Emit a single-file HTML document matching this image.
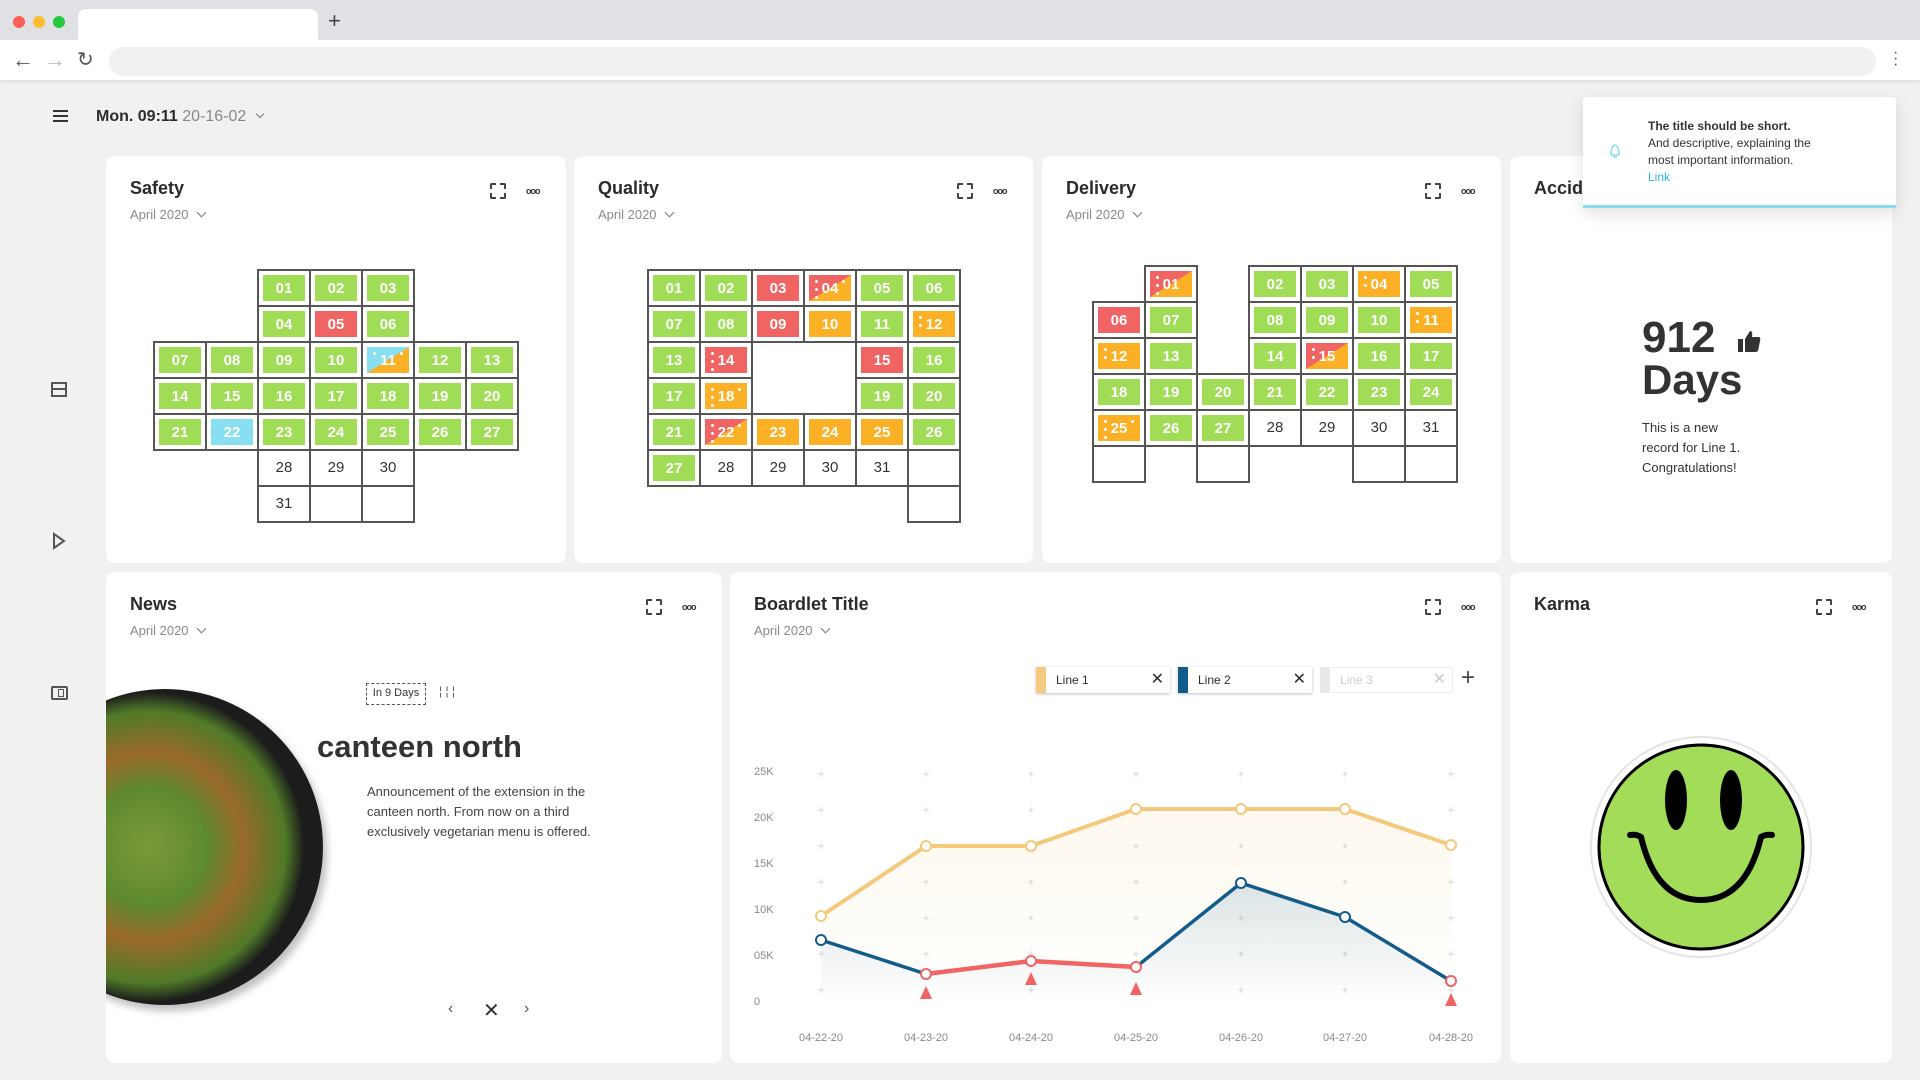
<!DOCTYPE html>
<html><head><meta charset="utf-8"><style>
*{box-sizing:border-box;margin:0;padding:0}
body{width:1920px;height:1080px;background:#f1f1f1;font-family:"Liberation Sans",sans-serif;position:relative;overflow:hidden;color:#2b2b2b}
.a{position:absolute}
.card{position:absolute;background:#fff;border-radius:9px}
.tt{position:absolute;left:24px;top:22px;font-size:18px;font-weight:bold;color:#2b2b2b}
.sub{position:absolute;left:24px;top:51px;font-size:13px;color:#8a8a8a}
.sub:after{content:"";display:inline-block;width:6px;height:6px;border-right:1.3px solid #777;border-bottom:1.3px solid #777;transform:rotate(45deg);margin-left:9px;position:relative;top:-3px}
.ex{position:absolute;top:27px;width:16px;height:16px;border:2px dashed #444;border-radius:2px}
.dt{position:absolute;top:30px;font-size:9px;letter-spacing:-1px;color:#333;font-weight:bold}
.c{position:absolute;width:54px;height:38px;border:2px solid #555;background:#fff}
.c i{position:absolute;left:4px;top:4px;right:4px;bottom:4px;color:#fff;font-style:normal;font-weight:bold;font-size:15px;text-align:center;line-height:28px}
.c b{position:absolute;left:0;right:0;top:0;line-height:34px;text-align:center;font-weight:normal;font-size:15px;color:#333}
.d{position:absolute;width:3px;height:3px;border-radius:50%;background:#fff}
</style></head><body>
<div class="a" style="left:0;top:0;width:1920px;height:40px;background:#dfe1e5"></div>
<div class="a" style="left:13px;top:16px;width:12px;height:12px;border-radius:50%;background:#fe5f57"></div>
<div class="a" style="left:33px;top:16px;width:12px;height:12px;border-radius:50%;background:#febc2e"></div>
<div class="a" style="left:53px;top:16px;width:12px;height:12px;border-radius:50%;background:#28c840"></div>
<div class="a" style="left:78px;top:9px;width:240px;height:32px;background:#fff;border-radius:8px 8px 0 0"></div>
<div class="a" style="left:328px;top:8px;font-size:22px;color:#444">+</div>
<div class="a" style="left:0;top:40px;width:1920px;height:40px;background:#fff;box-shadow:0 2px 4px rgba(0,0,0,.08)"></div>
<div class="a" style="left:12px;top:47px;font-size:22px;color:#555">←</div>
<div class="a" style="left:44px;top:47px;font-size:22px;color:#bbb">→</div>
<div class="a" style="left:77px;top:47px;font-size:20px;color:#555">↻</div>
<div class="a" style="left:109px;top:47px;width:1767px;height:29px;background:#f0f1f3;border-radius:15px"></div>
<div class="a" style="left:1893px;top:50px;font-size:16px;color:#555;line-height:6px">·<br>·<br>·</div>
<div class="a" style="left:53px;top:110px;width:15px;height:2px;background:#333;box-shadow:0 5px 0 #333,0 10px 0 #333"></div>
<div class="a" style="left:96px;top:108px;font-size:16px"><b>Mon. 09:11</b> <span style="color:#888">20-16-02</span> <span style="display:inline-block;width:6px;height:6px;border-right:1.3px solid #777;border-bottom:1.3px solid #777;transform:rotate(45deg);margin-left:6px;position:relative;top:-4px"></span></div>
<div class="a" style="left:51px;top:382px;width:16px;height:15px;border:2px solid #555"></div>
<div class="a" style="left:51px;top:388px;width:16px;height:2px;background:#555"></div>
<svg class="a" style="left:52px;top:532px" width="14" height="18"><path d="M2 2 L12 9 L2 16 Z" fill="none" stroke="#555" stroke-width="2"/></svg>
<div class="a" style="left:51px;top:686px;width:17px;height:14px;border:2px solid #555;border-radius:2px"></div>
<div class="a" style="left:58px;top:689px;width:6px;height:8px;border:1.5px solid #555"></div>

<div class="card" style="left:106px;top:156px;width:460px;height:407px"><div class="tt">Safety</div><div class="sub">April 2020</div><div class="ex" style="left:384px"></div><div class="dt" style="left:420px">ooo</div></div>
<div class="card" style="left:574px;top:156px;width:459px;height:407px"><div class="tt">Quality</div><div class="sub">April 2020</div><div class="ex" style="left:383px"></div><div class="dt" style="left:419px">ooo</div></div>
<div class="card" style="left:1042px;top:156px;width:459px;height:407px"><div class="tt">Delivery</div><div class="sub">April 2020</div><div class="ex" style="left:383px"></div><div class="dt" style="left:419px">ooo</div></div>
<div class="card" style="left:1510px;top:156px;width:382px;height:407px"><div class="tt">Accidents</div>
<div class="a" style="left:132px;top:160px;font-size:44px;font-weight:bold;line-height:44px;color:#333">912</div>
<svg class="a" style="left:226px;top:173px" width="26" height="26"><rect x="2" y="10" width="5" height="13" fill="#333"/><path d="M9 10 L14 2 Q17 2 16 8 L23 8 Q25 9 24 12 L22 22 Q21 23 19 23 L9 23 Z" fill="#333"/></svg>
<div class="a" style="left:132px;top:202px;font-size:42px;font-weight:bold;line-height:44px;color:#333">Days</div>
<div class="a" style="left:132px;top:262px;font-size:13px;line-height:20px;color:#333">This is a new<br>record for Line 1.<br>Congratulations!</div>
</div>
<div class="card" style="left:106px;top:572px;width:616px;height:491px;overflow:hidden"><div class="tt">News</div><div class="sub">April 2020</div><div class="ex" style="left:540px"></div><div class="dt" style="left:576px">ooo</div>
<div class="a" style="left:-99px;top:117px;width:316px;height:316px;border-radius:50%;background:radial-gradient(circle at 45% 50%,#7a9a3a 0,#5e8a2e 25%,#9a6a2a 40%,#4f7a28 58%,#1c1c1c 66%,#1c1c1c 100%);box-shadow:4px 6px 8px rgba(0,0,0,.25)"></div>
<div class="a" style="left:260px;top:111px;width:60px;height:22px;border:1.5px dashed #555;font-size:11px;line-height:19px;text-align:center;color:#333">In 9 Days</div>
<div class="a" style="left:333px;top:112px;font-size:12px;color:#555">¦ ¦ ¦</div>
<div class="a" style="left:211px;top:157px;font-size:31px;font-weight:bold;color:#333">canteen north</div>
<div class="a" style="left:261px;top:210px;font-size:13px;line-height:20px;color:#444">Announcement of the extension in the<br>canteen north. From now on a third<br>exclusively vegetarian menu is offered.</div>
<div class="a" style="left:342px;top:428px;font-size:16px;color:#555">‹</div>
<div class="a" style="left:377px;top:426px;font-size:20px;color:#333">✕</div>
<div class="a" style="left:418px;top:428px;font-size:16px;color:#555">›</div>
</div>
<div class="card" style="left:730px;top:572px;width:771px;height:491px"><div class="tt">Boardlet Title</div><div class="sub">April 2020</div><div class="ex" style="left:695px"></div><div class="dt" style="left:731px">ooo</div></div>
<div class="card" style="left:1510px;top:572px;width:382px;height:491px"><div class="tt">Karma</div><div class="ex" style="left:306px"></div><div class="dt" style="left:342px">ooo</div>
<svg class="a" style="left:76px;top:160px" width="230" height="230"><circle cx="115" cy="115" r="110" fill="#fff" stroke="#e4e4e4" stroke-width="2"/><circle cx="115" cy="115" r="102" fill="#a2dc58" stroke="#000" stroke-width="3"/><ellipse cx="90" cy="68" rx="11" ry="30" fill="#000"/><ellipse cx="145" cy="68" rx="11" ry="30" fill="#000"/><path d="M44 103 Q50 102 55 105 Q70 168 115 168 Q160 168 175 105 Q180 102 186 103" fill="none" stroke="#000" stroke-width="6" stroke-linecap="round"/></svg>
</div>

<div class="a" style="left:1036px;top:667px;width:134px;height:26px;background:#fff;box-shadow:0 1px 3px rgba(0,0,0,.25);border-left:10px solid #f3ca7f;font-size:12px;line-height:26px;padding-left:10px">Line 1<span style="position:absolute;right:6px;font-size:16px">✕</span></div>
<div class="a" style="left:1178px;top:667px;width:134px;height:26px;background:#fff;box-shadow:0 1px 3px rgba(0,0,0,.25);border-left:10px solid #125b8a;font-size:12px;line-height:26px;padding-left:10px">Line 2<span style="position:absolute;right:6px;font-size:16px">✕</span></div>
<div class="a" style="left:1320px;top:667px;width:133px;height:26px;background:#fff;border:1px solid #eee;border-left:10px solid #e8e8e8;font-size:12px;line-height:24px;padding-left:10px;color:#ccc">Line 3<span style="position:absolute;right:6px;font-size:16px">✕</span></div>
<div class="a" style="left:1461px;top:664px;font-size:24px;color:#444">+</div>

<svg class="a" style="left:0;top:0" width="1920" height="1080">
<defs>
<linearGradient id="g1" x1="0" y1="0" x2="0" y2="1"><stop offset="0" stop-color="#f7c873" stop-opacity=".12"/><stop offset="1" stop-color="#f7c873" stop-opacity="0"/></linearGradient>
<linearGradient id="g2" x1="0" y1="0" x2="0" y2="1"><stop offset="0" stop-color="#135d8c" stop-opacity=".15"/><stop offset="1" stop-color="#135d8c" stop-opacity="0"/></linearGradient>
</defs>
<g font-family="Liberation Sans" font-size="11" fill="#888">
<text x="754" y="775">25K</text><text x="754" y="821">20K</text><text x="754" y="867">15K</text><text x="754" y="913">10K</text><text x="754" y="959">05K</text><text x="754" y="1005">0</text>
</g>
<g font-family="Liberation Sans" font-size="11" fill="#888" text-anchor="middle" id="xl"></g>
<g id="grid" stroke="#d8d8d8" stroke-width="1"></g>
<polygon points="821,916 926,846 1031,846 1136,809 1241,809 1345,809 1451,845 1451,1001 821,1001" fill="url(#g1)"/>
<polygon points="821,940 926,974 1031,961 1136,967 1241,883 1345,917 1451,981 1451,1001 821,1001" fill="url(#g2)"/>
<polyline points="821,916 926,846 1031,846 1136,809 1241,809 1345,809 1451,845" fill="none" stroke="#f4c97c" stroke-width="4" stroke-linejoin="round"/>
<polyline points="821,940 926,974" fill="none" stroke="#125b8a" stroke-width="3.5"/>
<polyline points="926,974 1031,961 1136,967" fill="none" stroke="#f06464" stroke-width="4.5"/>
<polyline points="1136,967 1241,883 1345,917 1451,981" fill="none" stroke="#125b8a" stroke-width="3.5" stroke-linejoin="round"/>
<g fill="#fff" stroke="#f4c97c" stroke-width="2"><circle cx="821" cy="916" r="5"/><circle cx="926" cy="846" r="5"/><circle cx="1031" cy="846" r="5"/><circle cx="1136" cy="809" r="5"/><circle cx="1241" cy="809" r="5"/><circle cx="1345" cy="809" r="5"/><circle cx="1451" cy="845" r="5"/></g>
<g fill="#fff" stroke="#125b8a" stroke-width="2"><circle cx="821" cy="940" r="5"/><circle cx="1241" cy="883" r="5"/><circle cx="1345" cy="917" r="5"/></g>
<g fill="#fff" stroke="#f06464" stroke-width="2"><circle cx="926" cy="974" r="5"/><circle cx="1031" cy="961" r="5"/><circle cx="1136" cy="967" r="5"/><circle cx="1451" cy="981" r="5"/></g>
<g fill="#f06464"><path d="M926 986 L932 999 L920 999 Z"/><path d="M1031 972 L1037 985 L1025 985 Z"/><path d="M1136 982 L1142 995 L1130 995 Z"/><path d="M1451 993 L1457 1006 L1445 1006 Z"/></g>
</svg>

<div class="a" style="left:1583px;top:97px;width:313px;height:111px;background:#fff;border-radius:4px 4px 0 0;box-shadow:0 6px 16px rgba(0,0,0,.12);border-bottom:3px solid #87dcef">
<svg class="a" style="left:25px;top:46px" width="14" height="16"><path d="M3 12 Q3 3 7 2 Q11 3 11 12 Z M5 14 L9 14" fill="none" stroke="#87dcef" stroke-width="1.5"/></svg>
<div class="a" style="left:65px;top:21px;font-size:12px;line-height:17px;color:#333"><b>The title should be short.</b><br>And descriptive, explaining the<br>most important information.<br><span style="color:#2ab4e6">Link</span></div>
</div>

<div id="cals"></div>
<script>
var G='#a0dc55',R='#f06464',O='#fcb026',B='#88dfef';
var out='';
function cell(x,y,t,c,dl,dr){
 var s='<div class="c" style="left:'+(x-1)+'px;top:'+(y-1)+'px">';
 if(c){s+='<i style="background:'+c+'">'+t+'</i>';
  if(dl){for(var k=0;k<dl;k++)s+='<span class="d" style="left:10px;top:'+(9+k*8)+'px"></span>';}
  if(dr)s+='<span class="d" style="right:10px;top:9px"></span>';
 } else if(t) s+='<b>'+t+'</b>';
 return s+'</div>';
}
function cal(x0,y0,rows){rows.forEach(function(r,ri){r.forEach(function(e,ci){if(e===null)return;out+=cell(x0+ci*52,y0+ri*36,e[0],e[1],e[2],e[3]);});});}
var S1='linear-gradient(to bottom right,'+B+' 50%,'+O+' 50%)',RO='linear-gradient(to bottom right,'+R+' 50%,'+O+' 50%)';
var n=null;
cal(154,270,[
[n,n,['01',G],['02',G],['03',G],n,n],
[n,n,['04',G],['05',R],['06',G],n,n],
[['07',G],['08',G],['09',G],['10',G],['11',S1,1,1],['12',G],['13',G]],
[['14',G],['15',G],['16',G],['17',G],['18',G],['19',G],['20',G]],
[['21',G],['22',B],['23',G],['24',G],['25',G],['26',G],['27',G]],
[n,n,['28'],['29'],['30'],n,n],
[n,n,['31'],[''],[''],n,n]]);
cal(648,270,[
[['01',G],['02',G],['03',R],['04',RO,3,1],['05',G],['06',G]],
[['07',G],['08',G],['09',R],['10',O],['11',G],['12',O,2]],
[['13',G],['14',R,3],n,n,['15',R],['16',G]],
[['17',G],['18',O,3,1],n,n,['19',G],['20',G]],
[['21',G],['22',RO,3,1],['23',O],['24',O],['25',O],['26',G]],
[['27',G],['28'],['29'],['30'],['31'],['']],
[n,n,n,n,n,['']]]);
cal(1093,266,[
[n,['01',RO,3],n,['02',G],['03',G],['04',O,2],['05',G]],
[['06',R],['07',G],n,['08',G],['09',G],['10',G],['11',O,2]],
[['12',O,2],['13',G],n,['14',G],['15',RO,2],['16',G],['17',G]],
[['18',G],['19',G],['20',G],['21',G],['22',G],['23',G],['24',G]],
[['25',O,3,1],['26',G],['27',G],['28'],['29'],['30'],['31']],
[[''],n,[''],n,n,[''],['']]]);
document.getElementById('cals').innerHTML=out;
var xs=[821,926,1031,1136,1241,1345,1451],lab=['04-22-20','04-23-20','04-24-20','04-25-20','04-26-20','04-27-20','04-28-20'];
var xl='',gr='';
xs.forEach(function(x,i){xl+='<text x="'+x+'" y="1041">'+lab[i]+'</text>';[774,810,846,882,918,954,990].forEach(function(y){gr+='<path d="M'+(x-3)+' '+y+'h6M'+x+' '+(y-3)+'v6"/>';});});
document.getElementById('xl').innerHTML=xl;document.getElementById('grid').innerHTML=gr;
</script>
</body></html>
